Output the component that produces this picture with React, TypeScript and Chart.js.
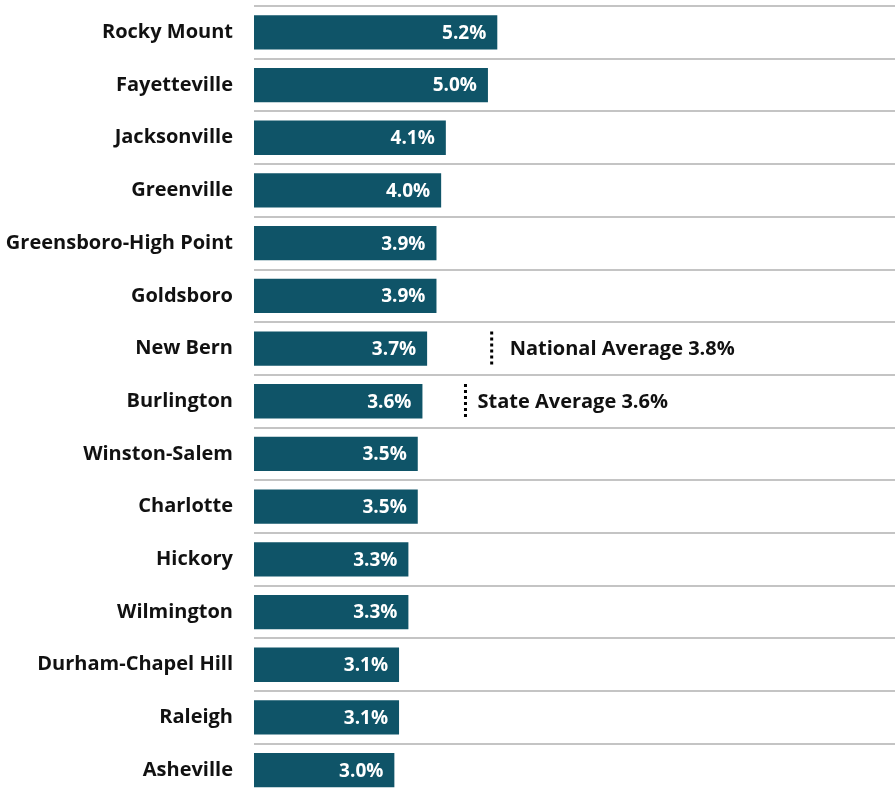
import React, { useEffect, useRef } from "react";
import { Chart, registerables } from "chart.js";

Chart.register(...registerables);

const categories = [
  "Rocky Mount", "Fayetteville", "Jacksonville", "Greenville", "Greensboro-High Point",
  "Goldsboro", "New Bern", "Burlington", "Winston-Salem", "Charlotte",
  "Hickory", "Wilmington", "Durham-Chapel Hill", "Raleigh", "Asheville",
];
const rates = [5.2, 5.0, 4.1, 4.0, 3.9, 3.9, 3.7, 3.6, 3.5, 3.5, 3.3, 3.3, 3.1, 3.1, 3.0];
const rateLabels = ["5.2%", "5.0%", "4.1%", "4.0%", "3.9%", "3.9%", "3.7%", "3.6%", "3.5%", "3.5%", "3.3%", "3.3%", "3.1%", "3.1%", "3.0%"];

const noteTexts = ["National Average 3.8%", "State Average 3.6%"];
const noteRows = ["New Bern", "Burlington"];

const FONT = "'Open Sans', Lato, sans-serif";

const valueLabelPlugin = {
  id: "valueLabels",
  afterDatasetsDraw(chart: any) {
    const ctx = chart.ctx;
    const meta = chart.getDatasetMeta(0);
    ctx.save();
    ctx.fillStyle = "#ffffff";
    ctx.font = `bold 19px ${FONT}`;
    ctx.textAlign = "right";
    ctx.textBaseline = "middle";
    meta.data.forEach((el: any, i: number) => {
      ctx.fillText(rateLabels[i], el.x - 11, el.y + 1);
    });
    ctx.restore();
  },
};

const notePlugin = {
  id: "notes",
  afterDatasetsDraw(chart: any, _args: any, opts: any) {
    const ctx = chart.ctx;
    const meta = chart.getDatasetMeta(0);
    const xs = chart.scales.x;
    ctx.save();
    noteTexts.forEach((t, k) => {
      const idx = categories.indexOf(noteRows[k]);
      const el: any = meta.data[idx];
      const lx = xs.getPixelForValue(opts.positions[k]);
      const half = el.height / 2;
      ctx.strokeStyle = "#000000";
      ctx.lineWidth = 3;
      ctx.setLineDash([3, 3]);
      ctx.beginPath();
      ctx.moveTo(lx, el.y - half);
      ctx.lineTo(lx, el.y + half);
      ctx.stroke();
      ctx.setLineDash([]);
      ctx.fillStyle = "#111111";
      ctx.font = `bold 20px ${FONT}`;
      ctx.textAlign = "left";
      ctx.textBaseline = "middle";
      ctx.fillText(t, lx + opts.gaps[k], el.y + 1);
    });
    ctx.restore();
  },
};

export default function App() {
  const ref = useRef<HTMLCanvasElement>(null);
  useEffect(() => {
    if (!ref.current) return;
    const chart = new Chart(ref.current, {
      type: "bar",
      data: {
        labels: categories,
        datasets: [
          {
            data: rates,
            backgroundColor: "#0f5468",
            categoryPercentage: 1,
            barPercentage: 0.65,
          },
        ],
      },
      options: {
        indexAxis: "y",
        responsive: false,
        animation: false,
        layout: { padding: { top: 6, bottom: 3.5, left: 0, right: 0 } },
        plugins: {
          legend: { display: false },
          tooltip: { enabled: false },
          notes: { positions: [5.08, 4.52], gaps: [18, 12] },
        } as any,
        scales: {
          x: { display: false, min: 0, max: 13.7 },
          y: {
            afterFit: (s: any) => {
              s.width = 254;
              s.paddingTop = 0;
              s.paddingBottom = 0;
            },
            border: { display: false },
            grid: { color: "#c4c4c4", lineWidth: 2, drawTicks: false, offset: true },
            ticks: {
              padding: 21,
              color: "#111111",
              font: { family: FONT, weight: "bold", size: 20 },
            },
          },
        },
      },
      plugins: [valueLabelPlugin, notePlugin],
    });
    return () => chart.destroy();
  }, []);
  return (
    <div style={{ position: "absolute", top: 0, left: 0, width: 895, height: 794, overflow: "hidden", background: "#fff" }}>
      <canvas ref={ref} width={895} height={800} style={{ width: 895, height: 800 }} />
    </div>
  );
}
